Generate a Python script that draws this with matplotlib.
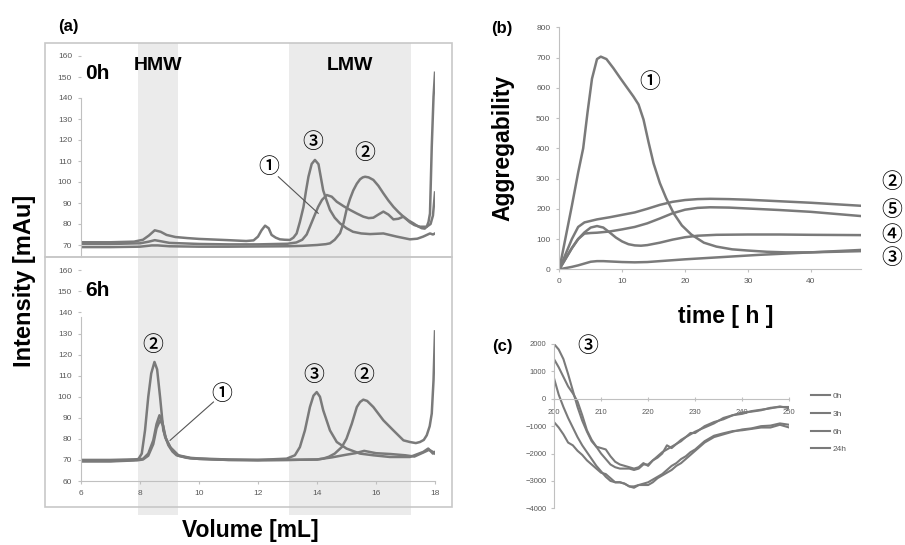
import matplotlib.pyplot as plt
from matplotlib.patches import Rectangle

plt.rcParams['font.family'] = ['Liberation Sans', 'DejaVu Sans']

W, H = 905, 545
LINE = '#7a7a7a'
AXC = '#c0c0c0'
TXT = '#595959'
BAND = '#ebebeb'
CIRC = ['Noto Sans CJK JP', 'DejaVu Sans']

# ---------------- (a) SEC chromatograms ----------------
# 0h
vol_0h_3 = [6.0, 7.0, 7.8, 8.1, 8.3, 8.5, 8.7, 8.9, 9.2, 9.6, 10.0, 11.0, 11.6, 11.85, 12.0, 12.12,
            12.24, 12.36, 12.46, 12.6, 12.74, 12.9, 13.08, 13.2, 13.31, 13.42, 13.54, 13.63, 13.71,
            13.82, 13.93, 14.05, 14.21, 14.33, 14.44, 14.6, 14.78, 15.0, 15.22, 15.5, 15.8, 16.25,
            16.7, 17.15, 17.4, 17.6, 17.83, 17.93, 18.0]
int_0h_3 = [71.3, 71.3, 71.6, 72.5, 74.5, 77.0, 76.3, 74.8, 73.8, 73.3, 72.9, 72.3, 71.9, 72.2, 74.0,
            77.0, 79.2, 78.0, 74.8, 73.5, 72.7, 72.5, 72.4, 73.5, 75.5, 81.0, 88.0, 96.0, 102.5,
            108.6, 110.5, 108.5, 96.0, 91.0, 86.7, 83.0, 80.3, 78.0, 76.3, 75.5, 75.2, 75.5, 74.0,
            72.7, 73.0, 74.0, 75.5, 75.0, 75.5]
vol_0h_1 = [6.0, 7.0, 8.0, 8.3, 8.5, 8.7, 9.0, 10.0, 11.0, 12.0, 13.0, 13.3, 13.5, 13.65, 13.76, 13.9,
            14.04, 14.17, 14.33, 14.5, 14.67, 14.9, 15.12, 15.35, 15.57, 15.75, 15.91, 16.08, 16.25,
            16.42, 16.59, 16.76, 16.93, 17.15, 17.3, 17.49, 17.72, 17.85, 17.93, 18.0]
int_0h_1 = [70.5, 70.5, 70.8, 71.6, 72.3, 71.8, 71.0, 70.5, 70.3, 70.3, 70.6, 71.2, 72.5, 75.0, 78.7,
            83.5, 88.2, 91.5, 93.8, 93.0, 90.6, 88.5, 86.7, 85.0, 83.5, 82.8, 83.0, 84.5, 85.9, 84.5,
            82.2, 82.5, 83.5, 80.8, 79.5, 78.7, 78.7, 80.0, 84.0, 95.0]
vol_0h_2 = [6.0, 7.0, 8.0, 8.4, 8.6, 9.0, 10.0, 11.0, 12.0, 13.0, 13.5, 14.0, 14.3, 14.44, 14.6, 14.78,
            14.9, 15.0, 15.12, 15.23, 15.35, 15.46, 15.55, 15.63, 15.75, 15.91, 16.08, 16.25, 16.42,
            16.59, 16.76, 16.93, 17.1, 17.27, 17.41, 17.55, 17.65, 17.72, 17.78, 17.83, 17.89, 17.95, 18.0]
int_0h_2 = [69.0, 69.0, 69.2, 69.8, 69.8, 69.4, 69.2, 69.2, 69.3, 69.4, 69.6, 70.0, 70.4, 70.8, 72.5,
            75.6, 80.5, 86.7, 92.0, 96.0, 99.2, 101.3, 102.2, 102.5, 102.2, 101.0, 98.2, 94.6, 91.2,
            88.2, 85.7, 83.5, 81.7, 80.3, 79.0, 78.0, 77.8, 78.7, 81.0, 85.0, 116.8, 140.6, 152.0]

# 6h
vol_6h_2 = [6.0, 7.0, 7.8, 7.95, 8.06, 8.17, 8.28, 8.38, 8.49, 8.58, 8.68, 8.79, 8.96, 9.1, 9.24, 9.58,
            10.0, 11.0, 12.0, 13.0, 14.0, 14.2, 14.4, 14.6, 14.84, 15.0, 15.18, 15.35, 15.46, 15.57,
            15.7, 15.91, 16.25, 16.59, 16.93, 17.15, 17.35, 17.49, 17.62, 17.72, 17.82, 17.89, 17.95, 18.0]
int_6h_2 = [69.5, 69.5, 70.0, 70.5, 73.0, 84.0, 99.9, 111.0, 116.5, 113.0, 99.9, 84.0, 77.0, 74.0,
            72.2, 71.0, 70.5, 70.0, 69.8, 70.0, 70.2, 70.6, 71.5, 73.0, 76.1, 80.1, 87.2, 95.1, 97.5,
            98.6, 98.0, 95.1, 88.8, 84.0, 79.3, 78.5, 78.0, 78.5, 79.5, 81.7, 86.0, 92.0, 107.8, 131.0]
vol_6h_1 = [6.0, 7.0, 7.9, 8.1, 8.28, 8.45, 8.56, 8.66, 8.75, 8.85, 9.02, 9.3, 9.7, 10.0, 11.0, 12.0,
            13.0, 14.0, 14.5, 15.0, 15.3, 15.6, 16.0, 16.5, 17.0, 17.3, 17.6, 17.8, 17.93, 18.0]
int_6h_1 = [70.0, 70.0, 70.3, 70.5, 73.0, 79.3, 87.0, 91.2, 88.5, 80.9, 76.1, 72.2, 71.0, 70.7, 70.2,
            70.0, 70.0, 70.2, 71.2, 72.5, 73.2, 74.3, 73.2, 72.8, 72.2, 71.6, 73.5, 74.8, 73.8, 73.0]
vol_6h_3 = [6.0, 7.0, 7.9, 8.1, 8.28, 8.45, 8.56, 8.68, 8.78, 8.88, 9.05, 9.3, 9.7, 10.0, 11.0, 12.0,
            12.97, 13.25, 13.42, 13.59, 13.76, 13.88, 13.99, 14.1, 14.21, 14.44, 14.67, 15.0, 15.46,
            15.91, 16.47, 17.15, 17.6, 17.77, 17.93, 18.0]
int_6h_3 = [69.3, 69.3, 69.8, 70.2, 72.0, 77.5, 85.0, 88.8, 86.5, 80.0, 75.5, 72.0, 70.8, 70.5, 70.0,
            70.0, 70.6, 72.2, 76.1, 84.0, 95.1, 100.5, 102.2, 100.0, 93.6, 84.0, 78.5, 75.4, 73.0,
            72.2, 71.4, 71.4, 73.8, 75.4, 73.0, 73.8]

hmw_band = (7.93, 9.29)
lmw_band = (13.05, 17.19)

# ---------------- (b) aggregability ----------------
time_1 = [0, 1, 2, 3, 3.8, 4.5, 5.2, 6.0, 6.6, 7.5, 8.6, 9.7, 10.8, 11.8, 12.6, 13.4, 14.2, 15.0, 16.0,
          17.0, 18.2, 19.5, 21.0, 23.0, 25.0, 27.5, 30.0, 33.0, 36.0, 40.0, 44.0, 48.0]
aggr_1 = [0, 105, 210, 320, 400, 520, 630, 695, 703, 695, 665, 632, 600, 571, 545, 495, 420, 350, 285,
          235, 185, 145, 115, 88, 75, 66, 62, 58, 56, 56, 58, 60]
time_25 = [0, 1, 2, 3, 4, 5, 6, 8, 10, 12, 14, 16, 18, 20, 22, 24, 27, 30, 35, 40, 44, 48]
aggr_2 = [0, 50, 100, 140, 155, 160, 165, 172, 180, 188, 200, 213, 223, 229, 232, 233, 232, 230, 225,
          220, 215, 210]
aggr_5 = [0, 35, 70, 100, 118, 120, 121, 125, 132, 140, 152, 168, 185, 197, 203, 205, 204, 201, 196,
          190, 183, 176]
time_4 = [0, 1, 2, 3, 4, 5, 6, 7, 8, 9, 10, 11, 12, 13, 14, 16, 18, 20, 22, 25, 30, 35, 40, 48]
aggr_4 = [0, 35, 70, 100, 122, 138, 143, 138, 122, 105, 92, 83, 79, 78, 80, 88, 98, 106, 111, 114,
          115, 115, 114, 113]
time_3 = [0, 1, 2, 3, 4, 5, 6, 7, 8, 10, 12, 14, 16, 18, 20, 24, 28, 32, 36, 40, 44, 48]
aggr_3 = [0, 4, 8, 13, 19, 25, 27, 27, 26, 24, 23, 24, 27, 30, 33, 38, 43, 48, 52, 56, 60, 64]

# ---------------- (c) CD spectra ----------------
wavelength = list(range(200, 231)) + list(range(232, 251, 2))
cd_0h = [2000, 1800, 1450, 900, 300, -300, -800, -1200, -1550, -1750, -1800, -1850, -2100, -2300,
         -2400, -2450, -2500, -2550, -2500, -2350, -2450, -2250, -2150, -2000, -1700, -1800, -1650,
         -1550, -1400, -1250, -1250, -1000, -850, -750, -600, -500, -470, -420, -330, -300, -300]
cd_3h = [1450, 1150, 800, 450, 200, -100, -600, -1150, -1500, -1750, -2000, -2200, -2400, -2500,
         -2550, -2550, -2550, -2600, -2550, -2400, -2400, -2250, -2100, -1950, -1850, -1750, -1650,
         -1500, -1400, -1300, -1200, -1050, -900, -700, -600, -550, -450, -400, -350, -280, -350]
cd_6h = [750, 150, -300, -700, -1050, -1400, -1700, -1950, -2200, -2450, -2650, -2850, -3000, -3050,
         -3050, -3100, -3200, -3250, -3150, -3100, -3050, -2950, -2850, -2750, -2600, -2450, -2350,
         -2200, -2100, -1950, -1850, -1550, -1350, -1260, -1180, -1150, -1100, -1050, -1050, -950, -1050]
cd_24h = [-850, -1050, -1300, -1600, -1700, -1900, -2050, -2250, -2400, -2550, -2700, -2750, -2900,
          -3050, -3050, -3100, -3200, -3200, -3150, -3150, -3150, -3050, -2900, -2800, -2700, -2600,
          -2450, -2350, -2200, -2050, -1900, -1600, -1400, -1300, -1200, -1120, -1080, -1000, -980,
          -900, -950]
cd_labels = ['0h', '3h', '6h', '24h']


def box(l, t, r, b):
    return [l / W, 1 - b / H, (r - l) / W, (b - t) / H]


def circ(ax, x, y, s, **kw):
    ax.text(x, y, s, family=CIRC, fontsize=15, fontweight='medium', ha='center', va='center', **kw)


fig = plt.figure(figsize=(9.05, 5.45), dpi=100)

# ---- (a) bottom (6h) first so its bands sit under the top panel lines
ax_bot = fig.add_axes(box(81, 257, 435, 481), facecolor='none')
ax_top = fig.add_axes(box(81, 43, 435, 257), facecolor='none')
ax_bot.set_zorder(0)
ax_top.set_zorder(1)

for lo, hi in (hmw_band, lmw_band):
    sp = ax_bot.axvspan(lo, hi, ymin=-34 / 224, ymax=1 + 214 / 224, color=BAND, zorder=0, lw=0)
    sp.set_clip_on(False)

ax_top.plot(vol_0h_3, int_0h_3, color=LINE, lw=1.8)
ax_top.plot(vol_0h_1, int_0h_1, color=LINE, lw=1.8)
ax_top.plot(vol_0h_2, int_0h_2, color=LINE, lw=1.8)
ax_bot.plot(vol_6h_2, int_6h_2, color=LINE, lw=1.8)
ax_bot.plot(vol_6h_1, int_6h_1, color=LINE, lw=1.8)
ax_bot.plot(vol_6h_3, int_6h_3, color=LINE, lw=1.8)

ax_top.set_xlim(6, 18)
ax_top.set_ylim(70 - 12 / 2.1, 70 + 202 / 2.1)
ax_bot.set_xlim(6, 18)
ax_bot.set_ylim(60, 60 + 224 / 2.107)

for ax in (ax_top, ax_bot):
    for s in ('top', 'right'):
        ax.spines[s].set_visible(False)
    for s in ('left', 'bottom'):
        ax.spines[s].set_color(AXC)
    ax.tick_params(colors=AXC, labelcolor=TXT, labelsize=6, length=2.5, width=0.8, pad=4)

ax_top.spines['bottom'].set_visible(False)
ax_top.set_xticks([])
ax_top.set_yticks(range(70, 161, 10))
ax_top.spines['left'].set_bounds(ax_top.get_ylim()[0], 140)
ax_bot.set_yticks(range(60, 161, 10))
ax_bot.set_xticks(range(6, 19, 2))
ax_bot.spines['left'].set_bounds(60, 138)

# outer frames of panel (a)
for t, b in ((43, 257), (257, 507)):
    fig.add_artist(Rectangle((45 / W, 1 - b / H), 407 / W, (b - t) / H, transform=fig.transFigure,
                             fill=False, edgecolor='#c8c8c8', lw=1.2, zorder=5))

ax_top.text(6.55, 151.5, '0h', fontsize=15, fontweight='bold', ha='center', va='center')
ax_top.text(8.6, 155.5, 'HMW', fontsize=14, fontweight='bold', ha='center', va='center')
ax_top.text(15.12, 155.5, 'LMW', fontsize=14, fontweight='bold', ha='center', va='center')
circ(ax_top, 13.87, 119, '③')
circ(ax_top, 15.63, 114, '②')
circ(ax_top, 12.35, 107, '①')
ax_top.plot([12.69, 14.04], [102.5, 85.1], color='#555555', lw=0.8)

ax_bot.text(6.55, 150.5, '6h', fontsize=15, fontweight='bold', ha='center', va='center')
circ(ax_bot, 8.44, 124.4, '②')
circ(ax_bot, 10.77, 101.5, '①')
circ(ax_bot, 13.88, 110.2, '③')
circ(ax_bot, 15.57, 110.2, '②')
ax_bot.plot([10.49, 9.02], [97.5, 79.3], color='#555555', lw=0.8)

fig.text(68 / W, 1 - 27 / H, '(a)', fontsize=12, fontweight='bold', ha='center', va='center')
fig.text(24 / W, 1 - 281 / H, 'Intensity [mAu]', fontsize=17, fontweight='bold', rotation=90,
         ha='center', va='center')
fig.text(250 / W, 1 - 530 / H, 'Volume [mL]', fontsize=16.5, fontweight='bold', ha='center', va='center')

# ---- (b)
ax_b = fig.add_axes(box(559.3, 27.3, 861, 269.3))
ax_b.plot(time_1, aggr_1, color=LINE, lw=1.8)
ax_b.plot(time_25, aggr_2, color=LINE, lw=1.8)
ax_b.plot(time_25, aggr_5, color=LINE, lw=1.8)
ax_b.plot(time_4, aggr_4, color=LINE, lw=1.8)
ax_b.plot(time_3, aggr_3, color=LINE, lw=1.8)
ax_b.set_xlim(0, 48)
ax_b.set_ylim(0, 800)
ax_b.set_xticks(range(0, 41, 10))
ax_b.set_yticks(range(0, 801, 100))
for s in ('top', 'right'):
    ax_b.spines[s].set_visible(False)
for s in ('left', 'bottom'):
    ax_b.spines[s].set_color(AXC)
ax_b.tick_params(colors=AXC, labelcolor=TXT, labelsize=6, length=2.5, width=0.8, pad=4)

circ(ax_b, 14.4, 620, '①')
for lab, yv in (('②', 290), ('⑤', 196), ('④', 113), ('③', 36)):
    circ(ax_b, 52.9, yv, lab, clip_on=False)

fig.text(502 / W, 1 - 28 / H, '(b)', fontsize=12, fontweight='bold', ha='center', va='center')
fig.text(503 / W, 1 - 148 / H, 'Aggregability', fontsize=16.5, fontweight='bold', rotation=90,
         ha='center', va='center')
fig.text(726 / W, 1 - 316 / H, 'time [ h ]', fontsize=16.5, fontweight='bold', ha='center', va='center')

# ---- (c)
ax_c = fig.add_axes(box(554, 344, 789.3, 508.3))
for yv, lab in zip((cd_0h, cd_3h, cd_6h, cd_24h), cd_labels):
    ax_c.plot(wavelength, yv, color=LINE, lw=1.5, label=lab)
ax_c.set_xlim(200, 250)
ax_c.set_ylim(-4000, 2000)
ax_c.set_xticks(range(200, 251, 10))
ax_c.set_yticks(range(-4000, 2001, 1000))
ax_c.spines['top'].set_visible(False)
ax_c.spines['right'].set_visible(False)
ax_c.spines['bottom'].set_position(('data', 0))
for s in ('left', 'bottom'):
    ax_c.spines[s].set_color(AXC)
ax_c.tick_params(colors=AXC, labelcolor=TXT, labelsize=5.5, length=2.5, width=0.8, pad=3)
ax_c.tick_params(axis='x', direction='inout', pad=6)
circ(ax_c, 207.2, 1920, '③')
ax_c.legend(loc='upper left', bbox_to_anchor=(811 / W, 1 - 392 / H), bbox_transform=fig.transFigure,
            frameon=False, fontsize=6, handlelength=2.3, handletextpad=0.3, labelspacing=1.2,
            borderpad=0, borderaxespad=0, labelcolor=TXT)

fig.text(502 / W, 1 - 346 / H, '(c)', fontsize=12, fontweight='bold', ha='center', va='center')

fig.savefig('out.png', dpi=100)
